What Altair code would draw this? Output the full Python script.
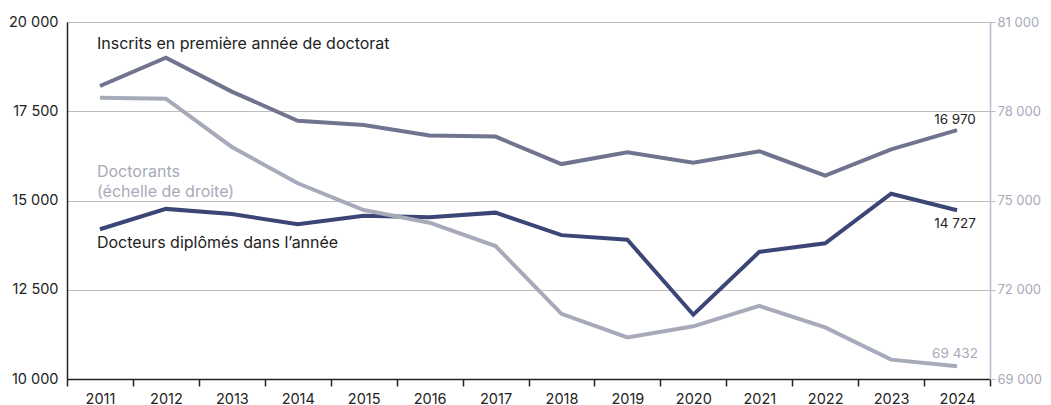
import altair as alt
import pandas as pd

years = [str(y) for y in range(2011, 2025)]
inscrits = [18207, 19000, 18050, 17235, 17115, 16820, 16790, 16020, 16350, 16060, 16380, 15700, 16430, 16970]
docteurs = [14195, 14765, 14620, 14335, 14575, 14530, 14660, 14030, 13900, 11800, 13560, 13800, 15190, 14727]
doctorants = [78456, 78420, 76800, 75580, 74680, 74255, 73470, 71190, 70400, 70770, 71455, 70735, 69650, 69432]

series_left = ["Inscrits en première année de doctorat", "Docteurs diplômés dans l’année"]
colors_left = ["#71748f", "#3b4677"]
color_right = "#a7aab9"

left_ticks = [10000, 12500, 15000, 17500, 20000]
right_ticks = [69000, 72000, 75000, 78000, 81000]

# annotation texts (anchored on data coordinates)
ann_left = pd.DataFrame({
    "year": ["2011", "2011"],
    "value": [19384, 13810],
    "label": ["Inscrits en première année de doctorat", "Docteurs diplômés dans l’année"],
})
ann_right = pd.DataFrame({
    "year": ["2011", "2011"],
    "value": [75950, 75280],
    "label": ["Doctorants", "(échelle de droite)"],
})

FONT = "Inter"
ANN_SIZE = 16
TICK_SIZE = 14.5

df_left = pd.DataFrame({
    "year": years * 2,
    "value": inscrits + docteurs,
    "series": [series_left[0]] * 14 + [series_left[1]] * 14,
})
df_right = pd.DataFrame({"year": years, "value": doctorants})

end_top = pd.DataFrame({"year": ["2024"], "value": [inscrits[-1]], "label": ["16 970"]})
end_mid = pd.DataFrame({"year": ["2024"], "value": [docteurs[-1]], "label": ["14 727"]})
end_right = pd.DataFrame({"year": ["2024"], "value": [doctorants[-1]], "label": ["69 432"]})

xenc = alt.X(
    "year:O",
    scale=alt.Scale(type="band", paddingInner=0, paddingOuter=0, domain=years, round=False),
    bandPosition=0.5,
    axis=alt.Axis(
        title=None, labelAngle=0, tickBand="extent", domainColor="#222222",
        tickColor="#222222", tickSize=7, labelColor="#222222", labelFontSize=TICK_SIZE,
        labelFont=FONT, labelPadding=6, domainWidth=1.5, tickWidth=1.5,
    ),
)

label_expr = "replace(format(datum.value, ','), ',', ' ')"

yleft = alt.Y(
    "value:Q",
    scale=alt.Scale(domain=[10000, 20000], nice=False, zero=False),
    axis=alt.Axis(
        title=None, values=left_ticks, labelExpr=label_expr, grid=True,
        gridColor="#bdbdbd", gridWidth=1, tickSize=0, labelPadding=9,
        domainColor="#222222", domainWidth=1.5, labelColor="#222222",
        labelFontSize=TICK_SIZE, labelFont=FONT,
    ),
)

line_left = alt.Chart(df_left).mark_line(strokeWidth=4).encode(
    x=xenc,
    y=yleft,
    color=alt.Color("series:N", scale=alt.Scale(domain=series_left, range=colors_left), legend=None),
)

text_left = alt.Chart(ann_left).mark_text(
    align="left", baseline="middle", dx=-3, fontSize=ANN_SIZE, font=FONT, color="#222222"
).encode(x=alt.X("year:O"), y=alt.Y("value:Q"), text="label:N")

end_text_top = alt.Chart(end_top).mark_text(
    align="center", baseline="middle", fontSize=13.5, font=FONT, color="#222222", dx=-2, dy=-10
).encode(x=alt.X("year:O"), y=alt.Y("value:Q"), text="label:N")
end_text_mid = alt.Chart(end_mid).mark_text(
    align="center", baseline="middle", fontSize=13.5, font=FONT, color="#222222", dx=-2, dy=14
).encode(x=alt.X("year:O"), y=alt.Y("value:Q"), text="label:N")

left = alt.layer(line_left, text_left, end_text_top, end_text_mid)

yright = alt.Y(
    "value:Q",
    scale=alt.Scale(domain=[69000, 81000], nice=False, zero=False),
    axis=alt.Axis(
        title=None, orient="right", values=right_ticks, labelExpr=label_expr, grid=False,
        domainColor="#b8bbcb", tickColor="#b8bbcb", tickSize=5, labelColor=color_right,
        labelFontSize=13, labelFont=FONT, labelPadding=2, domainWidth=1.5,
    ),
)

line_right = alt.Chart(df_right).mark_line(strokeWidth=4, color=color_right).encode(
    x=alt.X("year:O"), y=yright
)
text_right = alt.Chart(ann_right).mark_text(
    align="left", baseline="middle", dx=-3, fontSize=ANN_SIZE, font=FONT, color=color_right
).encode(x=alt.X("year:O"), y=alt.Y("value:Q"), text="label:N")
end_text_right = alt.Chart(end_right).mark_text(
    align="center", baseline="middle", fontSize=13.5, font=FONT, color=color_right, dx=-2, dy=-12
).encode(x=alt.X("year:O"), y=alt.Y("value:Q"), text="label:N")

right = alt.layer(line_right, text_right, end_text_right)

chart = alt.layer(left, right).resolve_scale(y="independent").properties(
    width=923,
    height=357,
    autosize=alt.AutoSizeParams(type="none"),
    padding={"left": 59, "top": 14, "right": 53, "bottom": 26},
).configure_view(stroke=None).configure(background="white")

chart.save("out.html", embed_options={"renderer": "svg", "actions": False})
